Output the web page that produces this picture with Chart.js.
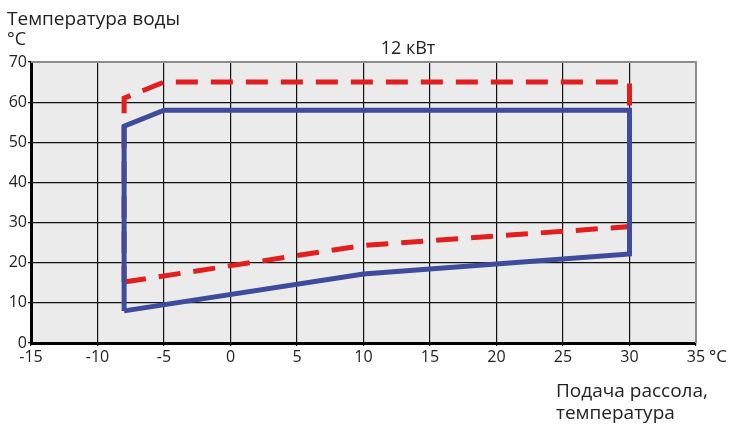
<!DOCTYPE html>
<html>
<head>
<meta charset="utf-8">
<script src="https://cdn.jsdelivr.net/npm/chart.js@4"></script>
<style>
  html, body { margin: 0; padding: 0; background: #fff; }
  #wrap { width: 734px; height: 428px; position: relative; }
</style>
</head>
<body>
<div id="wrap"><canvas id="chart"></canvas></div>
<script>
// ========== ДАННЫЕ ==========
const xTicks = [-15, -10, -5, 0, 5, 10, 15, 20, 25, 30, 35];
const yTicks = [0, 10, 20, 30, 40, 50, 60, 70];

// синяя линия (сплошная)
const blueX = [-8, 10, 30, 30, -5, -8, -8];
const blueY = [8, 17.2, 22.2, 58, 58, 54, 8];

// красная линия (пунктир)
const redX = [-8, 10, 30, 30, -5, -8, -8];
const redY = [15.2, 24.3, 29, 65, 65, 61, 15.2];

const chartTitle = '12 кВт';
const yTitle = ['Температура воды', '°C'];
const xTitle = ['Подача рассола,', 'температура'];
const xUnit = '°C';

const FONT = "'Open Sans', 'DejaVu Sans', sans-serif";

function toPoints(xs, ys) {
    return xs.map((x, i) => ({ x: x, y: ys[i] }));
}

// ========== ПЛАГИН: фон и подписи ==========
const decorPlugin = {
    id: 'decor',
    beforeDraw(chart) {
        const { ctx, chartArea: a } = chart;
        ctx.save();
        ctx.fillStyle = '#ebebeb';
        ctx.fillRect(a.left, a.top, a.right - a.left, a.bottom - a.top);
        ctx.restore();
    },
    afterDraw(chart) {
        const { ctx, chartArea: a } = chart;
        ctx.save();
        // верхняя и правая рамка — серые
        ctx.strokeStyle = '#8c8c8c';
        ctx.lineWidth = 2;
        ctx.beginPath();
        ctx.moveTo(a.left, a.top);
        ctx.lineTo(a.right, a.top);
        ctx.lineTo(a.right, a.bottom);
        ctx.stroke();

        ctx.fillStyle = '#222';
        ctx.textBaseline = 'alphabetic';
        ctx.font = '19px ' + FONT;
        ctx.textAlign = 'left';
        ctx.fillText(yTitle[0], 7, 25);
        ctx.font = '18px ' + FONT;
        ctx.fillText(yTitle[1], 7, 45);

        ctx.textAlign = 'center';
        ctx.fillText(chartTitle, 408, 54);

        ctx.font = '19px ' + FONT;
        ctx.textAlign = 'left';
        ctx.fillText(xTitle[0], 556, 397);
        ctx.fillText(xTitle[1], 556, 419);

        ctx.font = '17px ' + FONT;
        ctx.fillText(xUnit, 709, 362);
        ctx.restore();
    }
};

// ========== ГРАФИК ==========
// синяя линия первой — рисуется поверх красной
const ctx = document.getElementById('chart').getContext('2d');
new Chart(ctx, {
    type: 'scatter',
    data: {
        datasets: [
            {
                label: 'blue',
                data: toPoints(blueX, blueY),
                showLine: true,
                borderColor: '#3f4b9b',
                borderWidth: 5,
                pointRadius: 0,
                borderJoinStyle: 'miter',
                order: 1
            },
            {
                label: 'red',
                data: toPoints(redX, redY),
                showLine: true,
                borderColor: '#e31e1e',
                borderWidth: 5,
                borderDash: [22, 13],
                pointRadius: 0,
                order: 2
            }
        ]
    },
    options: {
        responsive: true,
        maintainAspectRatio: false,
        animation: false,
        layout: { padding: { left: 0, top: 62, right: 38, bottom: 0 } },
        plugins: {
            legend: { display: false },
            title: { display: false },
            tooltip: { enabled: false }
        },
        scales: {
            x: {
                type: 'linear',
                min: xTicks[0],
                max: xTicks[xTicks.length - 1],
                afterBuildTicks: axis => { axis.ticks = xTicks.map(v => ({ value: v })); },
                afterFit: axis => { axis.height = 85; },
                border: { color: '#000', width: 3 },
                grid: { color: '#111', lineWidth: 1.2, tickLength: 3 },
                ticks: {
                    color: '#222',
                    padding: 2,
                    font: { size: 16, family: FONT },
                    maxRotation: 0
                }
            },
            y: {
                type: 'linear',
                min: yTicks[0],
                max: yTicks[yTicks.length - 1],
                afterBuildTicks: axis => { axis.ticks = yTicks.map(v => ({ value: v })); },
                afterFit: axis => { axis.width = 31; },
                border: { color: '#000', width: 3 },
                grid: { color: '#111', lineWidth: 1.2, tickLength: 3 },
                ticks: {
                    color: '#222',
                    padding: 1,
                    font: { size: 16, family: FONT }
                }
            }
        }
    },
    plugins: [decorPlugin]
});
</script>
</body>
</html>
